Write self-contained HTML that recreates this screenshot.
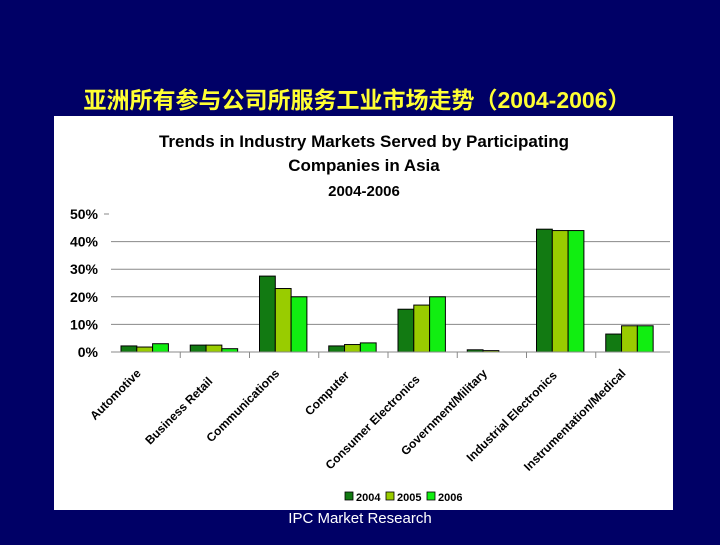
<!DOCTYPE html>
<html><head><meta charset="utf-8"><style>
body{margin:0;width:720px;height:540px;background:#000066;overflow:hidden;font-family:"Liberation Sans",sans-serif}
</style></head><body>
<svg width="720" height="540" xmlns="http://www.w3.org/2000/svg">
<text x="357" y="108" text-anchor="middle" fill="#ffff33" font-size="23" font-weight="bold" font-family="'Liberation Sans','Noto Sans CJK SC',sans-serif">亚洲所有参与公司所服务工业市场走势（2004-2006）</text>
<rect x="54" y="116" width="619" height="394" fill="#fff"/>
<g font-weight="bold" font-size="17" text-anchor="middle" fill="#000">
<text x="364" y="147">Trends in Industry Markets Served by Participating</text>
<text x="364" y="171">Companies in Asia</text>
<text x="364" y="196" font-size="15">2004-2006</text>
</g>
<g id="chart"></g>
<text x="360" y="523" text-anchor="middle" fill="#fff" font-size="15">IPC Market Research</text>
</svg>
<script>
const categories=["Automotive","Business Retail","Communications","Computer","Consumer Electronics","Government/Military","Industrial Electronics","Instrumentation/Medical"];
const s2004=[2.2,2.5,27.5,2.2,15.5,0.8,44.5,6.5];
const s2005=[1.8,2.5,23,2.7,17,0.5,44,9.5];
const s2006=[3,1.2,20,3.3,20,0,44,9.5];
const yTicks=[0,10,20,30,40,50];
const seriesNames=["2004","2005","2006"];
const ns="http://www.w3.org/2000/svg";
const g=document.getElementById('chart');
const X0=111,X1=665,Y0=352,Y50=214;
const y=v=>Y0-(v/50)*(Y0-Y50);
const cw=(X1-X0)/categories.length;
const x=i=>X0+i*cw;
function mk(t,a,p){const e=document.createElementNS(ns,t);for(const k in a)e.setAttribute(k,a[k]);(p||g).appendChild(e);return e;}
const colors=["#127a12","#99cc00","#11ee11"];
yTicks.forEach(t=>{
  if(t>0&&t<50){const l=mk('line',{x1:X0,x2:X1+5,y1:y(t),y2:y(t),stroke:'#888','stroke-width':1});
  }
  if(t==50){const l=mk('line',{x1:X0-7,x2:X0-2,y1:y(t),y2:y(t),stroke:'#888'});
  }
  const tx=mk('text',{x:98,y:y(t)+5,'text-anchor':'end','font-size':14,'font-weight':'bold'});
  tx.textContent=t+'%';
  
  
});
const series=[s2004,s2005,s2006];
const bw=15.8;
const labelDrop=[0,8,0,2,6,0,2,0];
categories.forEach((c,i)=>{
  series.forEach((s,j)=>{
    const v=s[i]; if(v<=0) return;
    const r=mk('rect',{x:x(i)+10+j*bw,y:y(v),width:bw,height:Y0-y(v),fill:colors[j],stroke:'#000','stroke-width':1});
    
    
  });
  if(i>0){const tk=mk('line',{x1:x(i),x2:x(i),y1:Y0,y2:Y0+6,stroke:'#888'});
  }
  const cx=x(i)+cw/2-4+labelDrop[i]*0.3, cy=Y0+22+labelDrop[i];
  const t=mk('text',{x:cx,y:cy,'text-anchor':'end','font-size':12,'font-weight':'bold',transform:`rotate(-45 ${cx} ${cy})`});
  t.textContent=c;
  
  
});
const ax=mk('line',{x1:X0,x2:X1+5,y1:Y0,y2:Y0,stroke:'#888'});

const lg=mk('g',{});

seriesNames.forEach((n,j)=>{
  const lx=345+j*41;
  const r=mk('rect',{x:lx,y:492,width:8,height:8,fill:colors[j],stroke:'#000','stroke-width':0.8},lg);
  
  const t=mk('text',{x:lx+11,y:501,'font-size':11,'font-weight':'bold'},lg);
  t.textContent=n;
  
});
</script>
</body></html>
